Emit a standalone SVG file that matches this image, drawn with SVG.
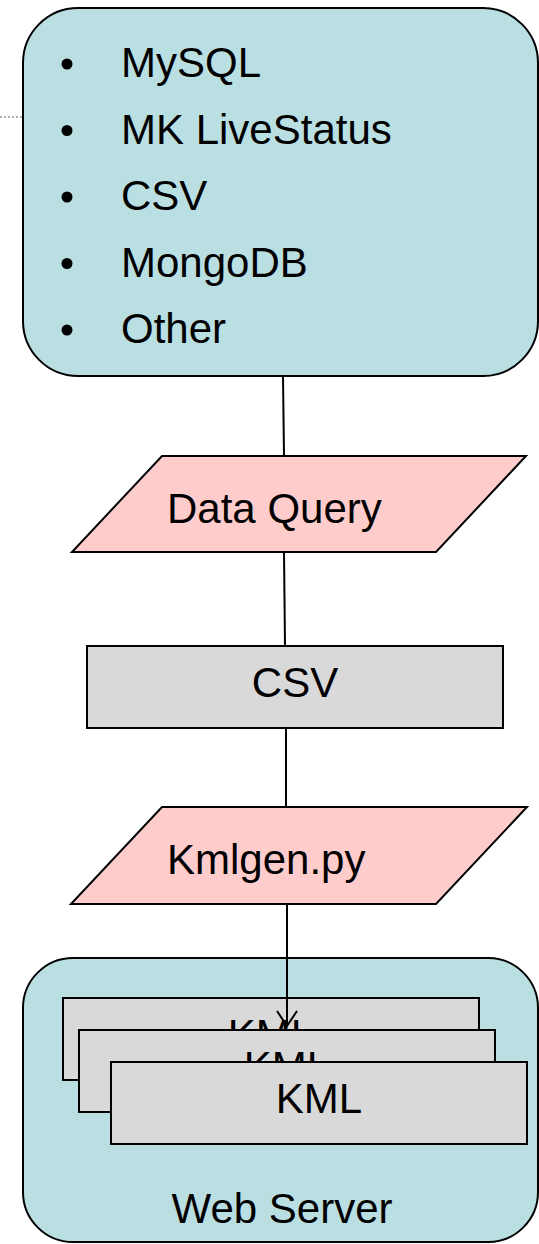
<svg xmlns="http://www.w3.org/2000/svg" width="539" height="1244" viewBox="0 0 539 1244">
<style>
.t{font-family:"Liberation Sans",Arial,sans-serif;font-size:42px;fill:#000}
.c{text-anchor:middle}
.teal{fill:#badfe3;stroke:#000;stroke-width:2}
.pink{fill:#ffcccc;stroke:#000;stroke-width:2}
.gray{fill:#d9d9d9;stroke:#000;stroke-width:2}
.ln{stroke:#000;stroke-width:2;fill:none}
</style>
<rect width="539" height="1244" fill="#fff"/>
<line x1="0" y1="117" x2="22" y2="117" stroke="#999" stroke-width="1.5" stroke-dasharray="2,2"/>
<g id="sources">
<rect class="teal" x="23" y="8" width="515" height="368" rx="55" ry="55"/>
<circle cx="67" cy="64" r="5.5"/>
<circle cx="67" cy="130.5" r="5.5"/>
<circle cx="67" cy="197" r="5.5"/>
<circle cx="67" cy="263.5" r="5.5"/>
<circle cx="67" cy="330" r="5.5"/>
<text class="t" x="121" y="77">MySQL</text>
<text class="t" x="121" y="143.5">MK LiveStatus</text>
<text class="t" x="121" y="210">CSV</text>
<text class="t" x="121" y="276.5">MongoDB</text>
<text class="t" x="121" y="343">Other</text>
</g>
<g id="dataquery">
<polygon class="pink" points="162,456 526,456 436,552 72,552"/>
<text class="t" x="167" y="523">Data Query</text>
</g>
<g id="csv">
<rect class="gray" x="87" y="646" width="416" height="82"/>
<text class="t c" x="295" y="697">CSV</text>
</g>
<g id="kmlgen">
<polygon class="pink" points="162,807 527,807 436,904 71,904"/>
<text class="t" x="167" y="874">Kmlgen.py</text>
</g>
<g id="webserver">
<rect class="teal" x="23" y="958" width="515" height="284" rx="50" ry="50"/>
<rect class="gray" x="63" y="998" width="416" height="82"/>
<text class="t c" x="271" y="1049">KML</text>
<rect class="gray" x="79" y="1030" width="416" height="82"/>
<text class="t c" x="287" y="1081">KML</text>
<rect class="gray" x="111" y="1062" width="416" height="82"/>
<text class="t c" x="319" y="1113">KML</text>
<text class="t c" x="282" y="1223">Web Server</text>
</g>
<g id="connectors">
<line class="ln" x1="283" y1="376" x2="284" y2="456"/>
<line class="ln" x1="284" y1="552" x2="285" y2="646"/>
<line class="ln" x1="286" y1="728" x2="286" y2="807"/>
<line class="ln" x1="287" y1="904" x2="287" y2="1026"/>
<polyline class="ln" points="277,1011 287,1026 297,1011"/>
</g>
</svg>
